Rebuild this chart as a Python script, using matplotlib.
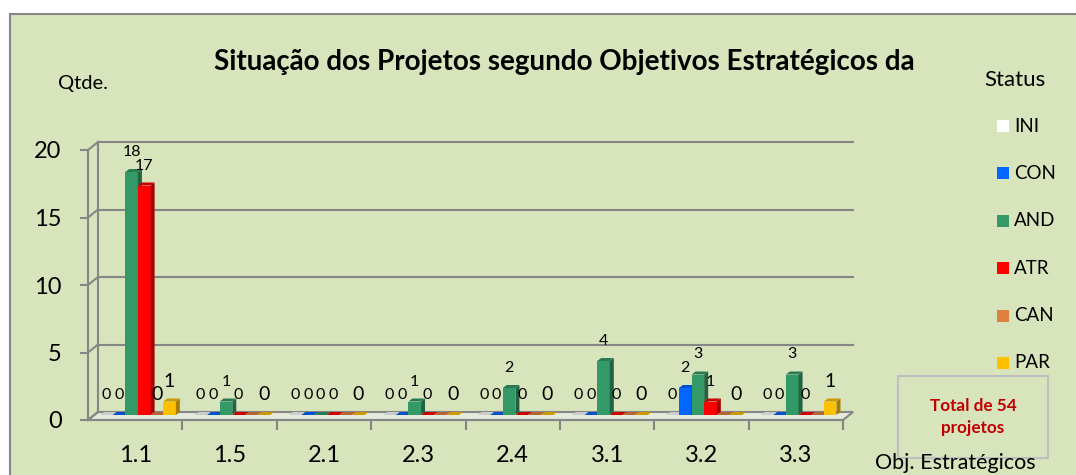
import matplotlib
matplotlib.use("Agg")
import matplotlib.pyplot as plt
from matplotlib.patches import Rectangle, Polygon
from matplotlib.transforms import offset_copy
from matplotlib.colors import to_rgb

# data
categories = ["1.1", "1.5", "2.1", "2.3", "2.4", "3.1", "3.2", "3.3"]
status = ["INI", "CON", "AND", "ATR", "CAN", "PAR"]
ini = [0, 0, 0, 0, 0, 0, 0, 0]
con = [0, 0, 0, 0, 0, 0, 2, 0]
andamento = [18, 1, 0, 1, 2, 4, 3, 3]
atr = [17, 0, 0, 0, 0, 0, 1, 0]
can = [0, 0, 0, 0, 0, 0, 0, 0]
par = [1, 0, 0, 0, 0, 0, 0, 1]
series = [ini, con, andamento, atr, can, par]
colors = ["#FFFFFF", "#0066FF", "#339966", "#FF0000", "#E08040", "#FFC000"]
# which labels the chart shows for the CAN series
can_label_shown = [True, False, False, False, False, False, False, False]
total_text = "Total de 54\nprojetos"

plt.rcParams["font.family"] = ["Lato", "DejaVu Sans"]

W, H = 1076, 475
fig = plt.figure(figsize=(W / 100, H / 100), dpi=100)
fig.patch.set_facecolor("white")


def fx(x):
    return x / W


def fy(y):
    return 1 - y / H


# chart area background
fig.patches.append(Rectangle((fx(10), fy(H + 20)), fx(W + 20), (H + 20 - 14) / H,
                             transform=fig.transFigure, facecolor="#D8E4BC",
                             edgecolor="#878787", linewidth=1.5, zorder=-5))

ax = fig.add_axes([fx(88), fy(420), 755 / W, 270 / H])
ax.set_zorder(1)
ax.set_xlim(-0.5, len(categories) - 0.5)
ax.set_ylim(0, 20)
ax.patch.set_visible(False)
for s in ["top", "right"]:
    ax.spines[s].set_visible(False)
grid_c = "#868686"
for s in ["left", "bottom"]:
    ax.spines[s].set_color(grid_c)
    ax.spines[s].set_linewidth(1.5)

px_x = 755 / len(categories)
px_y = 270 / 20
wall_dx = 10 / px_x
wall_dy = 8 / px_y
x0, x1 = -0.5, len(categories) - 0.5

# floor
ax.add_patch(Polygon([(x0, 0), (x1, 0), (x1 + wall_dx, wall_dy), (x0 + wall_dx, wall_dy)],
                     closed=True, facecolor="#E6EADC", edgecolor=grid_c, linewidth=1.5,
                     clip_on=False, zorder=1))
# back wall
yt = [0, 5, 10, 15, 20]
for v in yt[1:]:
    ax.plot([x0 + wall_dx, x1 + wall_dx], [v + wall_dy, v + wall_dy], color=grid_c, lw=1.5,
            clip_on=False, zorder=1)
for v in yt:
    ax.plot([x0, x0 + wall_dx], [v, v + wall_dy], color=grid_c, lw=1.5, clip_on=False, zorder=1)
ax.plot([x0 + wall_dx, x0 + wall_dx], [wall_dy, 20 + wall_dy], color=grid_c, lw=1.5,
        clip_on=False, zorder=1)

ax.set_yticks(yt)
ax.set_yticklabels([str(v) for v in yt], fontsize=17)
ax.tick_params(axis="y", length=6, width=1.5, color=grid_c, pad=13)
ax.set_xticks(range(len(categories)))
ax.set_xticklabels(categories, fontsize=17)
ax.tick_params(axis="x", which="major", length=0, pad=18)
ax.set_xticks([i + 0.5 for i in range(len(categories))], minor=True)
ax.tick_params(axis="x", which="minor", length=7, width=1.5, color=grid_c)

# 3d-looking bars
bar_tr = offset_copy(ax.transData, fig=fig, x=0, y=5, units="dots")
bar_w = 0.134
grp = -0.373
ddx = 4 / px_x
ddy = 3 / px_y


def shade(c, f):
    r, g, b = to_rgb(c)
    return (r * f, g * f, b * f)


for i in range(len(categories)):
    for j, vals in enumerate(series):
        v = vals[i]
        left = i + grp + j * bar_w
        c = colors[j]
        if v > 0:
            ax.bar(left, v, width=bar_w, align="edge", color=c, edgecolor="none",
                   transform=bar_tr, zorder=3)
            ax.add_patch(Polygon([(left + bar_w, 0), (left + bar_w + ddx, ddy),
                                  (left + bar_w + ddx, v + ddy), (left + bar_w, v)],
                                 closed=True, facecolor=shade(c, 0.65), edgecolor="none",
                                 transform=bar_tr, zorder=3))
        ax.add_patch(Polygon([(left, v), (left + bar_w, v), (left + bar_w + ddx, v + ddy),
                              (left + ddx, v + ddy)],
                             closed=True, facecolor=shade(c, 0.8), edgecolor="none",
                             transform=bar_tr, zorder=3))
        big = j >= 4
        if j == 4 and not can_label_shown[i]:
            continue
        ax.annotate(str(v), (left + bar_w / 2, v), xycoords=bar_tr,
                    xytext=(0, 20), textcoords="offset pixels", ha="center", va="center",
                    fontsize=14 if big else 11.5, zorder=5)

# titles and texts
fig.text(fx(564), fy(62), "Situação dos Projetos segundo Objetivos Estratégicos da",
         ha="center", va="center", fontsize=20, fontweight="bold")
fig.text(fx(58), fy(84), "Qtde.", ha="left", va="center", fontsize=14.5)
fig.text(fx(1015), fy(80), "Status", ha="center", va="center", fontsize=16)
fig.text(fx(955), fy(473), "Obj. Estratégicos", ha="center", va="bottom", fontsize=15.5)

# legend
for k, name in enumerate(status):
    yc = 126 + k * 47.4
    fig.patches.append(Rectangle((fx(997), fy(yc + 6)), 12 / W, 12 / H,
                                 transform=fig.transFigure, facecolor=colors[k],
                                 edgecolor="none", zorder=2))
    fig.text(fx(1014), fy(yc), name, ha="left", va="center", fontsize=13.5)

# total box
fig.patches.append(Rectangle((fx(898), fy(458)), 150 / W, 82 / H, transform=fig.transFigure,
                             facecolor="none", edgecolor="#BFBFBF", linewidth=1.5, zorder=2))
fig.text(fx(973), fy(417), total_text, ha="center", va="center", fontsize=12.3,
         fontweight="bold", color="#C00000", linespacing=1.4)

fig.savefig("out.png", dpi=100)
